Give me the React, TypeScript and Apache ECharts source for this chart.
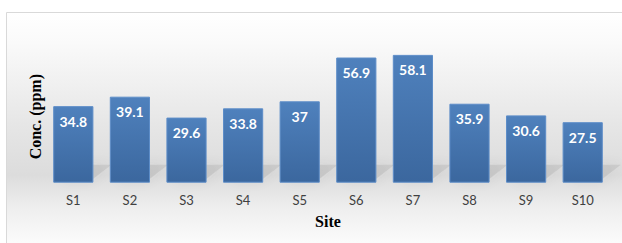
import React, { useEffect, useRef } from "react";
import * as echarts from "echarts";

const categories = ["S1", "S2", "S3", "S4", "S5", "S6", "S7", "S8", "S9", "S10"];
const values = [34.8, 39.1, 29.6, 33.8, 37, 56.9, 58.1, 35.9, 30.6, 27.5];
const xAxisTitle = "Site";
const yAxisTitle = "Conc. (ppm)";

export default function App() {
  const ref = useRef<HTMLDivElement>(null);
  useEffect(() => {
    document.body.style.margin = "0";
    const chart = echarts.init(ref.current!, null, { renderer: "svg" });
    const barGapFrac = 0.29;
    chart.setOption({
      animation: false,
      backgroundColor: "#ffffff",
      graphic: [
        {
          type: "rect",
          z: -10,
          silent: true,
          shape: { x: 6.5, y: 12.5, width: 640, height: 250 },
          style: {
            fill: new echarts.graphic.LinearGradient(0, 0, 0, 1, [
              { offset: 0, color: "#ffffff" },
              { offset: 0.12, color: "#fafafa" },
              { offset: 0.45, color: "#e6e6e6" },
              { offset: 0.65, color: "#dcdcdc" },
              { offset: 0.78, color: "#eeeeee" },
              { offset: 0.92, color: "#fbfbfb" },
              { offset: 1, color: "#ffffff" },
            ]),
            stroke: "#d9d9d9",
            lineWidth: 1,
          },
        },
      ],
      grid: { left: 45, width: 566, top: 50.7, height: 132 },
      xAxis: {
        type: "category",
        data: categories,
        axisLine: { show: false },
        axisTick: { show: false },
        axisLabel: { color: "#404040", fontSize: 13, fontFamily: "Lato", margin: 11 },
        name: xAxisTitle,
        nameLocation: "middle",
        nameGap: 31,
        nameTextStyle: { fontFamily: "Liberation Serif", fontWeight: "bold", fontSize: 16, color: "#000" },
      },
      yAxis: {
        type: "value",
        min: 0,
        max: 60,
        axisLabel: { show: false },
        axisLine: { show: false },
        axisTick: { show: false },
        splitLine: { show: false },
        name: yAxisTitle,
        nameLocation: "middle",
        nameGap: 2,
        nameTextStyle: { fontFamily: "Liberation Serif", fontWeight: "bold", fontSize: 16, color: "#000" },
      },
      series: [
        {
          type: "custom",
          z: 1,
          silent: true,
          data: values.map((v, i) => [i, v]),
          encode: { x: 0, y: 1 },
          renderItem: (params: any, api: any) => {
            const base = api.coord([api.value(0), 0]);
            const band = api.size([1, 0])[0];
            const w = band * (1 - barGapFrac);
            const xL = base[0] - w / 2;
            const xR = base[0] + w / 2;
            const y = base[1];
            return {
              type: "polygon",
              shape: {
                points: [
                  [xL + 6, y - 1],
                  [xR - 4, y - 1],
                  [xR + 18, y - 18],
                  [xL + 26, y - 18],
                ],
              },
              style: {
                fill: "rgba(110,110,110,0.16)",
                shadowBlur: 12,
                shadowColor: "rgba(80,80,80,0.4)",
              },
            };
          },
        },
        {
          type: "bar",
          z: 2,
          data: values,
          barCategoryGap: "29%",
          itemStyle: {
            color: new echarts.graphic.LinearGradient(0, 0, 0, 1, [
              { offset: 0, color: "#4f81bd" },
              { offset: 1, color: "#3b679e" },
            ]),
            borderColor: "#5d8dc8",
            borderWidth: 1,
          },
          label: {
            show: true,
            position: "insideTop",
            distance: 8,
            color: "#ffffff",
            fontWeight: "bold",
            fontSize: 14,
            fontFamily: "Lato",
          },
        },
      ],
    });
    return () => chart.dispose();
  }, []);
  return <div ref={ref} style={{ width: 622, height: 243 }} />;
}
